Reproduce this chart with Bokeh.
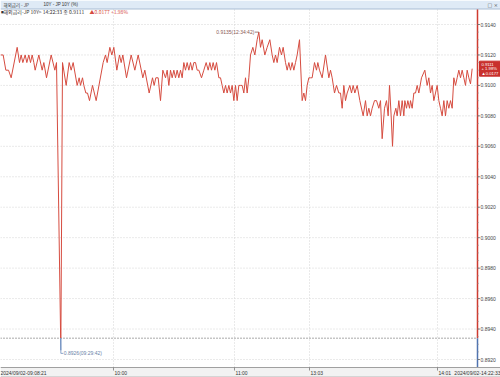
import numpy as np
from bokeh.plotting import figure
from bokeh.models import Range1d, BoxAnnotation, Label, ColumnDataSource, Span
from bokeh.core.properties import value
from bokeh.embed import file_html
from bokeh.resources import INLINE

# ---------------- data ----------------
tick = [0, 8, 16, 24, 32, 50, 57, 62, 67, 74, 79, 85, 90, 95, 100, 104, 115, 125, 130, 138,
        152, 163, 168, 181, 186, 197, 206, 212, 218, 230, 236, 240, 246, 250, 256, 261, 267, 276, 287,
        308, 315, 320, 328, 334, 340, 349, 357, 362, 367, 378, 392, 403, 413, 427, 433, 446, 456,
        461, 466, 473, 480, 487, 495, 500, 505, 510, 515, 520, 525, 530, 535, 540, 545, 550, 555,
        560, 565, 570, 575, 580, 585, 590, 595, 603, 610, 617, 623, 628, 633, 638, 643, 648, 655,
        660, 665, 670, 675, 680, 685, 690, 695, 700, 705, 710, 715, 720, 725, 730, 735, 740, 745,
        750, 757, 763, 770, 775, 780, 785, 793, 800, 808, 815, 820, 825, 830, 837, 843, 848, 855,
        860, 865, 870, 875, 880, 885, 890, 897, 905, 910, 915, 920, 925, 930, 935, 942, 948, 952,
        957, 965, 975, 985, 990, 995, 1002, 1008, 1015, 1020, 1025, 1030, 1035, 1040, 1048, 1053,
        1058, 1063, 1070, 1078, 1088, 1095, 1100, 1105, 1110, 1115, 1122, 1128, 1135, 1140, 1145,
        1152, 1158, 1163, 1167, 1172, 1176, 1180, 1186, 1190, 1195, 1200, 1205, 1210, 1213, 1218,
        1222, 1227, 1230, 1235, 1240, 1245, 1250, 1255, 1263, 1273, 1280, 1285, 1290, 1295, 1300,
        1305, 1310, 1315, 1320, 1325, 1330, 1335, 1340, 1345, 1350, 1355, 1360, 1365, 1370, 1375,
        1380, 1385, 1390, 1395, 1400, 1405, 1410, 1415]
yld = [0.9120, 0.9120, 0.9110, 0.9110, 0.9105, 0.9125, 0.9115, 0.9120, 0.9115, 0.9120, 0.9115,
       0.9120, 0.9115, 0.9120, 0.9115, 0.9110, 0.9120, 0.9110, 0.9115, 0.9105,
       0.9120, 0.9110, 0.9115, 0.8926, 0.9115, 0.9100, 0.9115, 0.9110, 0.9115, 0.9100, 0.9105,
       0.9100, 0.9105, 0.9100, 0.9095, 0.9095, 0.9090, 0.9100, 0.9090,
       0.9115, 0.9120, 0.9115, 0.9125, 0.9120, 0.9125, 0.9110, 0.9120, 0.9115, 0.9120, 0.9105,
       0.9120, 0.9110, 0.9120, 0.9105, 0.9110, 0.9095, 0.9105,
       0.9100, 0.9105, 0.9105, 0.9090, 0.9110, 0.9105, 0.9110, 0.9100, 0.9110, 0.9105, 0.9110,
       0.9105, 0.9110, 0.9105, 0.9110, 0.9105, 0.9115, 0.9110,
       0.9115, 0.9110, 0.9115, 0.9110, 0.9115, 0.9115, 0.9110, 0.9110, 0.9105, 0.9110, 0.9115,
       0.9110, 0.9115, 0.9110, 0.9115, 0.9110, 0.9115, 0.9105,
       0.9105, 0.9100, 0.9095, 0.9100, 0.9095, 0.9100, 0.9095, 0.9100, 0.9090, 0.9100, 0.9090,
       0.9100, 0.9100, 0.9100, 0.9095, 0.9105, 0.9095, 0.9105,
       0.9120, 0.9125, 0.9120, 0.9130, 0.9135, 0.9125, 0.9130, 0.9120, 0.9125, 0.9130, 0.9120,
       0.9115, 0.9120, 0.9115, 0.9125, 0.9120, 0.9125, 0.9115,
       0.9110, 0.9115, 0.9110, 0.9115, 0.9110, 0.9115, 0.9120, 0.9130, 0.9090, 0.9095, 0.9090,
       0.9100, 0.9105, 0.9105, 0.9105, 0.9115, 0.9110, 0.9115,
       0.9110, 0.9105, 0.9120, 0.9105, 0.9110, 0.9105, 0.9095, 0.9100, 0.9095, 0.9095, 0.9085,
       0.9100, 0.9090, 0.9095, 0.9100, 0.9095,
       0.9100, 0.9095, 0.9100, 0.9090, 0.9080, 0.9090, 0.9080, 0.9085, 0.9080, 0.9085, 0.9090,
       0.9090, 0.9085, 0.9090, 0.9065,
       0.9085, 0.9090, 0.9080, 0.9100, 0.9080, 0.9060, 0.9080, 0.9085, 0.9080, 0.9090, 0.9080,
       0.9090, 0.9080, 0.9090, 0.9085,
       0.9090, 0.9085, 0.9090, 0.9085, 0.9095, 0.9095, 0.9100, 0.9095, 0.9105, 0.9110, 0.9100,
       0.9105, 0.9095, 0.9100, 0.9090,
       0.9095, 0.9100, 0.9090, 0.9085, 0.9080, 0.9090, 0.9080, 0.9090, 0.9085, 0.9090, 0.9085,
       0.9105, 0.9100, 0.9105, 0.9110,
       0.9105, 0.9110, 0.9105, 0.9100, 0.9110, 0.9105, 0.9101, 0.9111]

prev_close = 0.8934
last_change = 0.0177
last_pct = 1.98
y_ticks = [0.8920, 0.8940, 0.8960, 0.8980, 0.9000, 0.9020, 0.9040, 0.9060, 0.9080, 0.9100, 0.9120, 0.9140]
time_ticks = [339, 702, 927, 1311]
time_labels = ["10:00", "11:00", "13:03", "14:01"]
start_label = "2024/09/02-09:08:21"
end_label = "2024/09/02-14:22:33"
min_time = "09:29:42"
max_time = "12:34:42"
last_time = "14:22:33"
title_a = "해외금리 - JP"
title_b = "10Y - JP 10Y (%)"

# ---------------- geometry (pixel helpers) ----------------
W, H = 500, 377
K = 0.0000656716          # yield per pixel
def vy(py):
    return 0.9140 - (py - 24) * K
def tx(px):
    return px * 3.0

AXIS_T = tx(477)
TOP_V = vy(8.5)
BOT_V = vy(367)

RED = "#d64c40"
BLUE = "#6f8fc0"
FONT_S = "Liberation Sans"
KFONT_S = "Noto Sans CJK KR"
FONT = value(FONT_S)

p = figure(width=W, height=H, x_range=Range1d(0, tx(W)), y_range=Range1d(vy(H), vy(0)),
           x_axis_location=None, y_axis_location=None, toolbar_location=None,
           output_backend="svg", min_border=0, outline_line_color=None)
p.grid.visible = False
p.background_fill_color = "white"

# title bar
p.add_layout(BoxAnnotation(bottom=TOP_V, fill_color="#dfeaf6", fill_alpha=1, line_color=None, level="underlay"))
p.add_layout(Span(location=TOP_V, dimension="width", line_color="#a9bdd4", line_width=1))
p.add_layout(Label(x=tx(3), y=vy(4.2), text=title_a, text_font=KFONT_S, text_font_size="4.5px",
                   text_color="#333333", text_baseline="middle"))
p.add_layout(Label(x=tx(43), y=vy(4.2), text=title_b, text_font=FONT_S, text_font_size="4.5px",
                   text_color="#333333", text_baseline="middle"))
p.add_layout(Label(x=tx(487), y=vy(4.2), text="□ ×", text_font="DejaVu Sans", text_font_size="5px",
                   text_color="#555555", text_baseline="middle"))

# bottom time band (under the glyphs)
p.add_layout(BoxAnnotation(top=BOT_V, fill_color="#f2f2f2", fill_alpha=1, line_color=None, level="underlay"))

# grid lines
p.segment(x0=0, x1=AXIS_T, y0=y_ticks, y1=y_ticks, line_color="#d4d4d4", line_width=1, line_dash="1 2")
p.segment(x0=time_ticks, x1=time_ticks, y0=BOT_V, y1=TOP_V, line_color="#d4d4d4", line_width=1, line_dash="1 2")

# previous close
p.segment(x0=[0], x1=[AXIS_T], y0=[prev_close], y1=[prev_close], line_color="#555555", line_width=1, line_dash="1 2")

# price line split at previous close
xs = np.array(tick, dtype=float)
ys = np.array(yld, dtype=float)
runs = []
cur = [(xs[0], ys[0])]
cur_up = ys[0] >= prev_close
for i in range(1, len(xs)):
    up = ys[i] >= prev_close
    if up == cur_up:
        cur.append((xs[i], ys[i]))
    else:
        xi = xs[i-1] + (prev_close - ys[i-1]) / (ys[i] - ys[i-1]) * (xs[i] - xs[i-1])
        cur.append((xi, prev_close))
        runs.append((cur_up, cur))
        cur = [(xi, prev_close), (xs[i], ys[i])]
        cur_up = up
runs.append((cur_up, cur))
red_x = [[a for a, b in r] for u, r in runs if u]
red_y = [[b for a, b in r] for u, r in runs if u]
blue_x = [[a for a, b in r] for u, r in runs if not u]
blue_y = [[b for a, b in r] for u, r in runs if not u]
p.multi_line(xs=red_x, ys=red_y, line_color=RED, line_width=1.0)
p.multi_line(xs=blue_x, ys=blue_y, line_color=BLUE, line_width=1.0)

# right axis line (red above prev close, blue below)
p.segment(x0=[AXIS_T], x1=[AXIS_T], y0=[prev_close], y1=[TOP_V], line_color="#cf3b30", line_width=1.5)
p.segment(x0=[AXIS_T], x1=[AXIS_T], y0=[BOT_V], y1=[prev_close], line_color="#4f73b0", line_width=1.5)
minor = np.round(np.arange(y_ticks[0], y_ticks[-1] + 0.0001, 0.0005), 4)
p.segment(x0=AXIS_T, x1=AXIS_T + tx(1.5), y0=minor, y1=minor, line_color="#999999", line_width=0.6)
p.segment(x0=AXIS_T, x1=AXIS_T + tx(2.5), y0=y_ticks, y1=y_ticks, line_color="#666666", line_width=0.8)
ysrc = ColumnDataSource(dict(y=y_ticks, t=[f"{v:.4f}" for v in y_ticks]))
p.text(x=AXIS_T + tx(3), y="y", text="t", source=ysrc, text_font=FONT, text_font_size="5px",
       text_color="#444444", text_baseline="middle", text_align="left")

# bottom band borders, ticks and labels
p.segment(x0=[0], x1=[tx(W)], y0=[BOT_V], y1=[BOT_V], line_color="#a0a0a0", line_width=1.2)
p.segment(x0=[0], x1=[tx(W)], y0=[vy(376.5)], y1=[vy(376.5)], line_color="#b8b8b8", line_width=1)
p.segment(x0=time_ticks, x1=time_ticks, y0=vy(370), y1=BOT_V, line_color="#777777", line_width=0.8)
tsrc = ColumnDataSource(dict(x=[t + tx(1) for t in time_ticks], t=time_labels))
p.text(x="x", y=vy(372), text="t", source=tsrc, text_font=FONT, text_font_size="5px",
       text_color="#333333", text_baseline="middle", text_align="left")
p.text(x=[tick[0]], y=[vy(372)], text=[start_label], text_font=FONT, text_font_size="5px",
       text_color="#333333", text_baseline="middle", text_align="left")
p.text(x=[tx(W)], y=[vy(372)], text=[end_label], text_font=FONT, text_font_size="5px",
       text_color="#333333", text_baseline="middle", text_align="right")

# legend line
last = yld[-1]
p.add_layout(Label(x=tx(0.5), y=vy(11), text="■", text_font="DejaVu Sans", text_font_size="3px",
                   text_color="#333333", text_baseline="middle"))
p.add_layout(Label(x=tx(3), y=vy(11), text=f"해외금리-JP 10Y> {last_time} 종 {last:.4f}", text_font=KFONT_S,
                   text_font_size="5px", text_color="#333333", text_baseline="middle"))
p.add_layout(Label(x=tx(89), y=vy(11), text=f"▲{last_change:.4f}  +{last_pct:.2f}%", text_font=KFONT_S,
                   text_font_size="5px", text_color=RED, text_baseline="middle"))

# min / max annotations
imin = int(np.argmin(ys)); imax = int(np.argmax(ys))
tmin, vmin = xs[imin], ys[imin]
tmax, vmax = xs[imax], ys[imax]
p.line(x=[tmin, tmin, tmin + tx(2.5)], y=[vmin, vmin - 3 * K, vmin - 3 * K], line_color=BLUE, line_width=0.8)
p.text(x=[tmin + tx(3)], y=[vmin - 3 * K], text=[f"{vmin:.4f}({min_time})"], text_font=FONT,
       text_font_size="5px", text_color="#6a7fa8", text_baseline="middle", text_align="left")
p.line(x=[tmax - tx(4), tmax], y=[vmax, vmax], line_color="#8a5a55", line_width=0.8)
p.text(x=[tmax - tx(4.5)], y=[vmax], text=[f"{vmax:.4f}({max_time})"], text_font=FONT,
       text_font_size="5px", text_color="#8a5a55", text_baseline="middle", text_align="right")

# last price box on axis
p.rect(x=[AXIS_T + tx(12.5)], y=[last], width=tx(21), height=15 * K, fill_color="#c9302c",
       line_color="#c9302c")
box_txt = [f"{last:.4f}", f"+ {last_pct:.2f}%", f"▲{last_change:.4f}"]
p.text(x=[AXIS_T + tx(4)] * 3, y=[last + 4.6 * K, last, last - 4.6 * K], text=box_txt,
       text_font=FONT, text_font_size="4.2px", text_color="white", text_baseline="middle", text_align="left")

open("out.html", "w").write(file_html(p, INLINE))
